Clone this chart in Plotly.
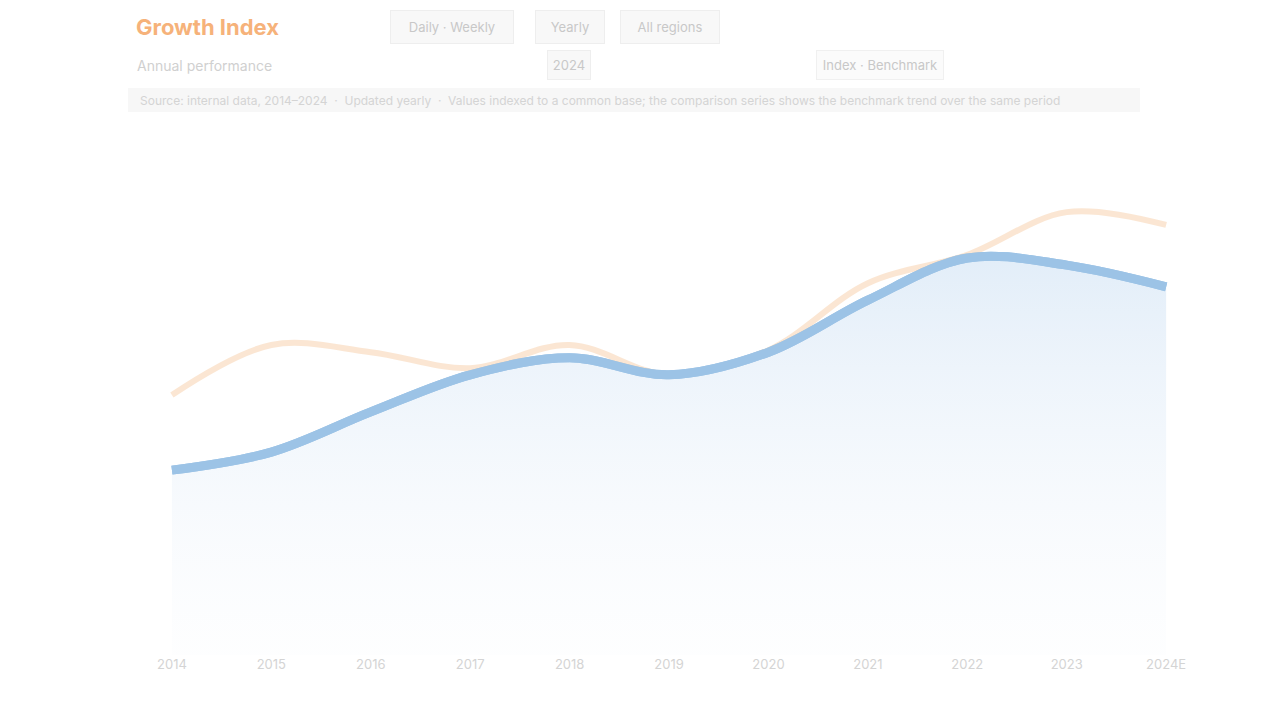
import plotly.graph_objects as go

categories = ["2014", "2015", "2016", "2017", "2018", "2019", "2020", "2021", "2022", "2023", "2024E"]
series_main = [35.9, 39.4, 47.2, 54.4, 57.7, 54.4, 58.8, 68.9, 77.1, 75.7, 71.5]
series_compare = [50.5, 60.2, 58.8, 55.7, 60.2, 54.4, 59.2, 72.2, 77.7, 86.0, 83.5]
main_name = "Index"
compare_name = "Benchmark"

FIG_W, FIG_H = 1264, 704          # page body has an 8px margin
L, R, T, B = 152, 82, 132, 57
PW, PH = FIG_W - L - R, FIG_H - T - B


def px_x(p):
    return (p - 8 - L) / PW


def px_y(p):
    return (FIG_H - B - (p - 8)) / PH


fig = go.Figure()

fig.add_trace(go.Scatter(
    x=categories, y=series_main, name=main_name, mode="lines",
    line=dict(color="#9cc3e6", width=9, shape="spline", smoothing=1.0),
    fill="tozeroy",
    fillgradient=dict(type="vertical",
                      colorscale=[[0, "rgba(240,245,251,0.1)"], [1, "rgba(214,230,246,0.7)"]]),
))
fig.add_trace(go.Scatter(
    x=categories, y=series_compare, name=compare_name, mode="lines",
    line=dict(color="#f8cfa8", width=6, shape="spline", smoothing=1.0),
    opacity=0.5,
))
fig.add_trace(go.Scatter(
    x=categories, y=series_main, mode="lines", showlegend=False, hoverinfo="skip",
    line=dict(color="#9cc3e6", width=9, shape="spline", smoothing=1.0),
))

fig.update_layout(
    width=FIG_W, height=FIG_H,
    paper_bgcolor="white", plot_bgcolor="white",
    margin=dict(l=L, r=R, t=T, b=B),
    showlegend=False,
    font=dict(family="Inter, Noto Sans, sans-serif", color="#c9c9c9"),
    xaxis=dict(type="category", range=[-0.12, 10.24], showgrid=False, zeroline=False,
               showline=False, ticks="", tickfont=dict(size=13, color="#d4d4d4")),
    yaxis=dict(range=[0, 100], showgrid=False, zeroline=False, showline=False,
               showticklabels=False),
)

fig.add_annotation(x=px_x(134), y=px_y(27), xref="paper", yref="paper",
                   text="<b>Growth Index</b>", showarrow=False, xanchor="left", yanchor="middle",
                   font=dict(size=22, color="#f6b27a"))

buttons = [("Daily · Weekly", 452, 118), ("Yearly", 570, 64), ("All regions", 670, 94)]
for label, cx, w in buttons:
    fig.add_annotation(x=px_x(cx), y=px_y(27), xref="paper", yref="paper", text=label,
                       showarrow=False, xanchor="center", yanchor="middle", width=w, height=28,
                       font=dict(size=13, color="#c8c8c8"),
                       bgcolor="#f8f8f8", bordercolor="#eeeeee", borderwidth=1, borderpad=2)

fig.add_annotation(x=px_x(135), y=px_y(65), xref="paper", yref="paper",
                   text="Annual performance", showarrow=False, xanchor="left", yanchor="middle",
                   font=dict(size=14, color="#d0d0d0"))
fig.add_annotation(x=px_x(569), y=px_y(65), xref="paper", yref="paper", text="2024",
                   showarrow=False, xanchor="center", yanchor="middle", width=40, height=26,
                   font=dict(size=13, color="#c8c8c8"),
                   bgcolor="#f8f8f8", bordercolor="#eeeeee", borderwidth=1, borderpad=1)
fig.add_annotation(x=px_x(880), y=px_y(65), xref="paper", yref="paper", text="Index · Benchmark",
                   showarrow=False, xanchor="center", yanchor="middle", width=124, height=26,
                   font=dict(size=13, color="#c8c8c8"),
                   bgcolor="#fbfbfb", bordercolor="#f0f0f0", borderwidth=1, borderpad=1)

fig.add_shape(type="rect", xref="paper", yref="paper",
              x0=px_x(128), x1=px_x(1140), y0=px_y(88), y1=px_y(112),
              fillcolor="#f7f7f7", line=dict(width=0), layer="below")
fig.add_annotation(x=px_x(138), y=px_y(100), xref="paper", yref="paper",
                   text="Source: internal data, 2014–2024  ·  Updated yearly  ·  Values indexed to a common base; the comparison series shows the benchmark trend over the same period",
                   showarrow=False, xanchor="left", yanchor="middle",
                   font=dict(size=12, color="#d4d4d4"))

fig.write_html("out.html")
